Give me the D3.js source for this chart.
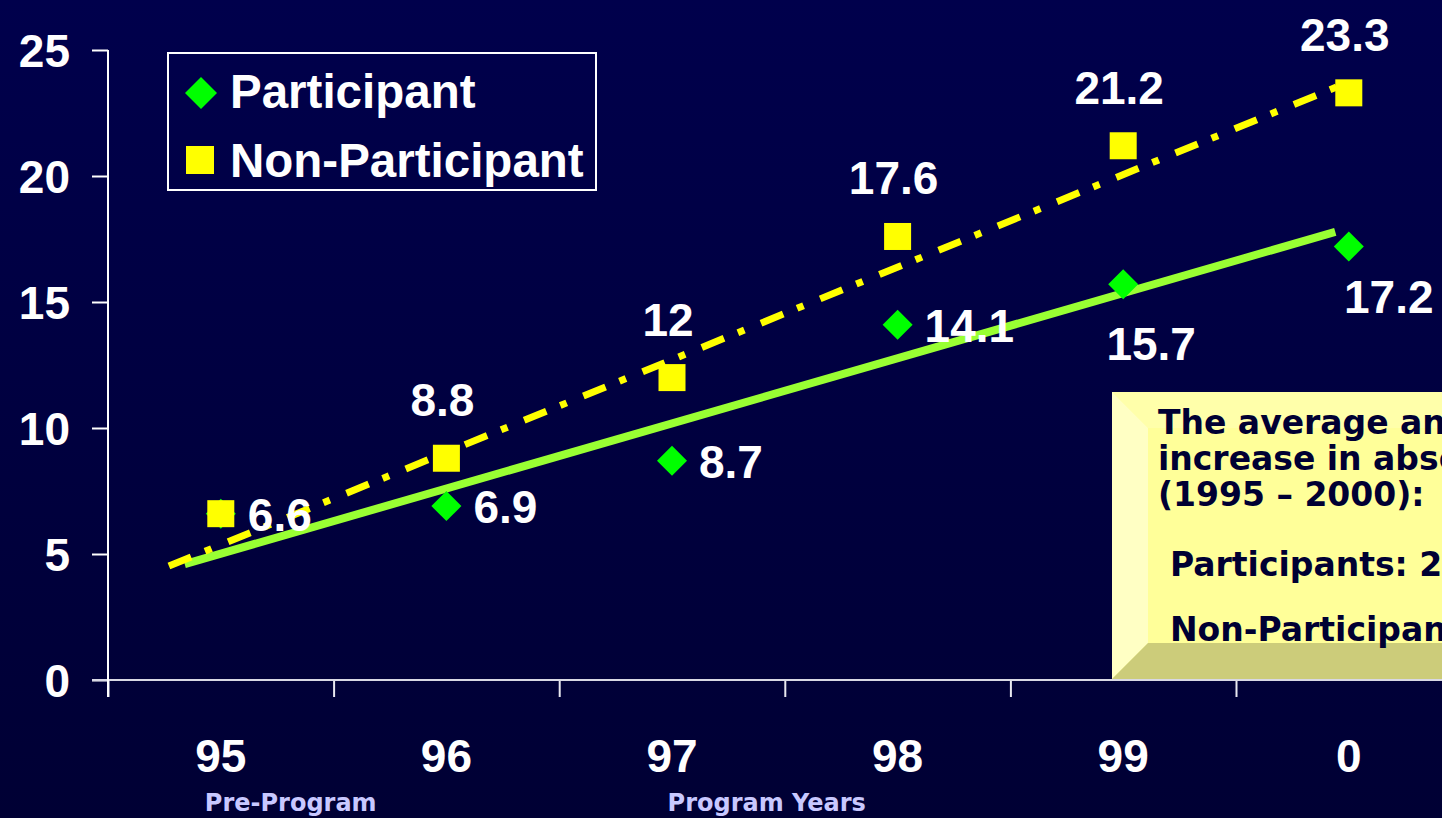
<!DOCTYPE html>
<html>
<head>
<meta charset="utf-8">
<script src="https://cdn.jsdelivr.net/npm/d3@7"></script>
<style>
  html, body { margin: 0; padding: 0; overflow: hidden; background: #000040; }
  svg { display: block; }
</style>
</head>
<body>
<svg id="chart" width="1442" height="818"></svg>
<script>
// Absences per year, participants vs non-participants
const years = ['95', '96', '97', '98', '99', '0'];
const participant = [6.6, 6.9, 8.7, 14.1, 15.7, 17.2];
const nonParticipant = [6.6, 8.8, 12, 17.6, 21.2, 23.3];
const yTicks = [0, 5, 10, 15, 20, 25];

// Trend lines: [start, end] as (year index, value)
const participantTrendX = [-0.16, 4.94];
const participantTrendY = [4.6, 17.78];
const nonParticipantTrendX = [-0.23, 5];
const nonParticipantTrendY = [4.52, 23.73];

const seriesNames = ['Participant', 'Non-Participant'];
const periodNames = ['Pre-Program', 'Program Years'];
const noteLines = ['The average annual', 'increase in absences', '(1995 \u2013 2000):'];
const noteParticipants = 'Participants: 2.1';
const noteNonParticipants = 'Non-Participants: 3.3';

const W = 1442, H = 818;
const svg = d3.select('#chart');

// background
const defs = svg.append('defs');
const bg = defs.append('linearGradient').attr('id', 'bg').attr('x1', 0).attr('y1', 0).attr('x2', 0).attr('y2', 1);
bg.append('stop').attr('offset', '0%').attr('stop-color', '#00004c');
bg.append('stop').attr('offset', '100%').attr('stop-color', '#000034');
svg.append('rect').attr('width', W).attr('height', H).attr('fill', 'url(#bg)');

const x = d3.scaleLinear().domain([-0.5, 5.5]).range([108, 1461.6]);
const y = d3.scaleLinear().domain([0, 25]).range([680, 50]);

const numFont = '"Liberation Sans", Arial, sans-serif';
const boxFont = '"DejaVu Sans", Verdana, sans-serif';

// note box (bevelled), behind the axes
const bx0 = 1112, by0 = 392, bx1 = 1480, by1 = 679, bev = 36;
const note = svg.append('g');
note.append('rect').attr('x', bx0).attr('y', by0).attr('width', bx1 - bx0).attr('height', by1 - by0).attr('fill', '#ffff99');
note.append('polygon').attr('points', [[bx0, by0], [bx1, by0], [bx1, by0 + bev], [bx0 + bev, by0 + bev]].join(' ')).attr('fill', '#ffffaa');
note.append('polygon').attr('points', [[bx0, by0], [bx0 + bev, by0 + bev], [bx0 + bev, by1 - bev], [bx0, by1]].join(' ')).attr('fill', '#ffffc4');
note.append('polygon').attr('points', [[bx0, by1], [bx0 + bev, by1 - bev], [bx1, by1 - bev], [bx1, by1]].join(' ')).attr('fill', '#cccc7a');

const noteText = note.append('g').attr('font-family', boxFont).attr('font-weight', 'bold')
  .attr('font-size', 33).attr('fill', '#000033');
noteLines.forEach((t, i) => {
  noteText.append('text').attr('x', 1158).attr('y', 434 + i * 36).text(t);
});
noteText.append('text').attr('x', 1170).attr('y', 576).text(noteParticipants);
noteText.append('text').attr('x', 1170).attr('y', 641).text(noteNonParticipants);

// axes
const yAxis = d3.axisLeft(y).tickValues(yTicks).tickSize(16).tickPadding(22).tickFormat(d3.format('d'));
const gy = svg.append('g').attr('transform', `translate(${x(-0.5)},0)`).call(yAxis);
gy.select('.domain').remove();
gy.selectAll('.tick line').attr('stroke', '#ffffff').attr('stroke-width', 2);
gy.selectAll('.tick text').attr('fill', '#ffffff').attr('font-family', numFont)
  .attr('font-weight', 'bold').attr('font-size', 46).attr('dy', '0.36em');

const boundaries = d3.range(-0.5, 5.6, 1);
const xAxis = d3.axisBottom(x).tickValues(boundaries).tickSize(17).tickFormat('');
const gx = svg.append('g').attr('transform', `translate(0,${y(0)})`).call(xAxis);
gx.select('.domain').remove();
gx.selectAll('.tick line').attr('stroke', '#e8e8f0').attr('stroke-width', 2);
svg.append('line').attr('x1', x(-0.5) - 16).attr('x2', W).attr('y1', y(0)).attr('y2', y(0))
  .attr('stroke', '#d8d8e4').attr('stroke-width', 2);
svg.append('line').attr('x1', x(-0.5)).attr('x2', x(-0.5)).attr('y1', y(25)).attr('y2', y(0) + 17)
  .attr('stroke', '#ffffff').attr('stroke-width', 2);

svg.append('g').selectAll('text').data(years).join('text')
  .attr('x', (d, i) => x(i)).attr('y', 772)
  .attr('text-anchor', 'middle').attr('fill', '#ffffff')
  .attr('font-family', numFont).attr('font-weight', 'bold').attr('font-size', 46)
  .text(d => d);

svg.append('g').selectAll('text').data(periodNames).join('text')
  .attr('x', (d, i) => x(i === 0 ? 0.31 : 2.42)).attr('y', 811)
  .attr('text-anchor', 'middle').attr('fill', '#c8c8ff')
  .attr('font-family', boxFont).attr('font-weight', 'bold').attr('font-size', 24)
  .text(d => d);

// trend lines
const line = d3.line().x(d => x(d[0])).y(d => y(d[1]));
svg.append('path').datum(d3.zip(participantTrendX, participantTrendY))
  .attr('d', line).attr('stroke', '#99ff33').attr('stroke-width', 8).attr('fill', 'none');
svg.append('path').datum(d3.zip(nonParticipantTrendX, nonParticipantTrendY))
  .attr('d', line).attr('stroke', '#ffff00').attr('stroke-width', 7).attr('fill', 'none')
  .attr('stroke-dasharray', '24,15,7,18');

// markers
const diamond = s => `M0,${-s}L${s},0L0,${s}L${-s},0Z`;
svg.append('g').selectAll('path').data(participant).join('path')
  .attr('transform', (d, i) => `translate(${x(i)},${y(d)})`)
  .attr('d', diamond(15)).attr('fill', '#00ff00');
svg.append('g').selectAll('rect').data(nonParticipant).join('rect')
  .attr('x', (d, i) => x(i) - 13.5).attr('y', d => y(d) - 13.5)
  .attr('width', 27).attr('height', 27).attr('fill', '#ffff00');

// value labels
const labelStyle = sel => sel.attr('fill', '#ffffff').attr('font-family', numFont)
  .attr('font-weight', 'bold').attr('font-size', 46);

// participant: right of the marker for the early years, below for the last two
const pPlace = ['right', 'right', 'right', 'right', 'below', 'belowRight'];
svg.append('g').selectAll('text').data(participant).join('text')
  .call(labelStyle)
  .attr('x', (d, i) => pPlace[i] === 'right' ? x(i) + 27 : (pPlace[i] === 'below' ? x(i) + 28 : x(i) + 40))
  .attr('y', (d, i) => pPlace[i] === 'right' ? y(d) + 17 : (pPlace[i] === 'below' ? y(d) + 76 : y(d) + 66))
  .attr('text-anchor', (d, i) => pPlace[i] === 'right' ? 'start' : 'middle')
  .text(d => d);

// non-participant: above the marker (the first year shares its label)
svg.append('g').selectAll('text').data(nonParticipant.slice(1)).join('text')
  .call(labelStyle)
  .attr('x', (d, i) => x(i + 1) - 4).attr('y', d => y(d) - 42)
  .attr('text-anchor', 'middle')
  .text(d => d);

// legend
const lg = svg.append('g');
lg.append('rect').attr('x', 168).attr('y', 53).attr('width', 428).attr('height', 137)
  .attr('fill', 'none').attr('stroke', '#ffffff').attr('stroke-width', 2);
lg.append('path').attr('transform', 'translate(201,93)').attr('d', diamond(16)).attr('fill', '#00ff00');
lg.append('rect').attr('x', 186).attr('y', 146).attr('width', 28).attr('height', 28).attr('fill', '#ffff00');
lg.selectAll('text.lab').data(seriesNames).join('text').attr('class', 'lab')
  .attr('x', 230).attr('y', (d, i) => 108 + i * 69)
  .attr('fill', '#ffffff').attr('font-family', numFont).attr('font-weight', 'bold').attr('font-size', 47.5)
  .text(d => d);
</script>
</body>
</html>
